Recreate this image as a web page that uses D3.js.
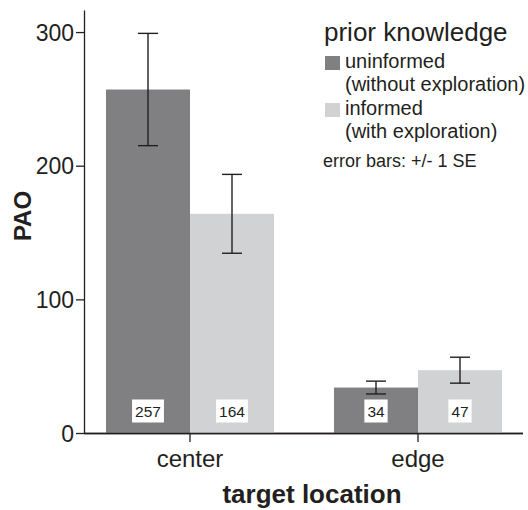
<!DOCTYPE html>
<html>
<head>
<meta charset="utf-8">
<script src="https://cdn.jsdelivr.net/npm/d3@7"></script>
<style>
    body { margin: 0; background: #fff; }
    text { font-family: "Liberation Sans", Arial, Helvetica, sans-serif; fill: #231f20; }
    .axis path, .axis line { stroke: #231f20; stroke-width: 1.3; }
</style>
</head>
<body>
<script>
var categories = ["center", "edge"];
var seriesNames = ["uninformed", "informed"];
var uninformedPAO = [257, 34];
var informedPAO = [164, 47];
var uninformedSE = [42, 4.8];
var informedSE = [29.5, 9.7];
var yTicks = [0, 100, 200, 300];

function InitChart() {
    var svgWidth = 528;
    var svgHeight = 510;
    var colors = {uninformed: "#808083", informed: "#d1d2d4"};

    // one row per bar, built from the arrays above
    var barData = [];
    categories.forEach(function (c, i) {
        barData.push({cat: c, series: "uninformed", y: uninformedPAO[i], se: uninformedSE[i]});
        barData.push({cat: c, series: "informed", y: informedPAO[i], se: informedSE[i]});
    });

    var svg = d3.select("body")
            .append("svg")
            .attr("width", svgWidth)
            .attr("height", svgHeight);

    var xScale = d3.scaleBand()
            .domain(categories)
            .range([76, 532]);

    var xSub = d3.scaleBand()
            .domain(seriesNames)
            .range([30, 198]);

    var yScale = d3.scaleLinear()
            .domain([0, 316.5])
            .range([433, 10]);

    // y axis
    var yAxis = d3.axisLeft(yScale)
            .tickValues(yTicks)
            .tickSize(8)
            .tickSizeOuter(0)
            .tickPadding(2);

    var gy = svg.append("g")
            .attr("class", "y axis")
            .attr("transform", "translate(84,0)")
            .call(yAxis);
    gy.selectAll("text")
            .style("font-size", "23px")
            .attr("dy", "0.36em")
            .attr("fill", "#231f20");

    // x axis
    var xAxis = d3.axisBottom(xScale)
            .tickSize(9)
            .tickSizeOuter(0)
            .tickPadding(8);

    var gx = svg.append("g")
            .attr("class", "x axis")
            .attr("transform", "translate(0,433)")
            .call(xAxis);
    gx.select(".domain").attr("d", "M84,0.5H523");
    gx.selectAll("text")
            .style("font-size", "24px")
            .attr("dy", "0.71em")
            .attr("fill", "#231f20");

    // bars
    svg.selectAll("rect.bar")
            .data(barData)
            .enter()
            .append("rect")
            .attr("class", "bar")
            .attr("x", function (d) { return xScale(d.cat) + xSub(d.series); })
            .attr("y", function (d) { return yScale(d.y); })
            .attr("width", xSub.bandwidth())
            .attr("height", function (d) { return yScale(0) - yScale(d.y); })
            .attr("fill", function (d) { return colors[d.series]; });

    // redraw baseline over bars
    svg.append("line")
            .attr("x1", 84).attr("x2", 523)
            .attr("y1", 433.5).attr("y2", 433.5)
            .attr("stroke", "#231f20")
            .attr("stroke-width", 1.3);

    // error bars
    var eb = svg.selectAll("g.err")
            .data(barData)
            .enter()
            .append("g")
            .attr("class", "err")
            .attr("transform", function (d) {
                return "translate(" + (xScale(d.cat) + xSub(d.series) + xSub.bandwidth() / 2) + ",0)";
            })
            .attr("stroke", "#231f20")
            .attr("stroke-width", 1.4);
    eb.append("line")
            .attr("x1", 0).attr("x2", 0)
            .attr("y1", function (d) { return yScale(d.y + d.se); })
            .attr("y2", function (d) { return yScale(d.y - d.se); });
    eb.append("line")
            .attr("x1", -10).attr("x2", 10)
            .attr("y1", function (d) { return yScale(d.y + d.se); })
            .attr("y2", function (d) { return yScale(d.y + d.se); });
    eb.append("line")
            .attr("x1", -10).attr("x2", 10)
            .attr("y1", function (d) { return yScale(d.y - d.se); })
            .attr("y2", function (d) { return yScale(d.y - d.se); });

    // value labels in white boxes
    var lab = svg.selectAll("g.val")
            .data(barData)
            .enter()
            .append("g")
            .attr("class", "val")
            .attr("transform", function (d) {
                return "translate(" + (xScale(d.cat) + xSub(d.series) + xSub.bandwidth() / 2) + "," + (yScale(0) - 22) + ")";
            });
    lab.append("rect")
            .attr("fill", "#fff");
    lab.append("text")
            .attr("text-anchor", "middle")
            .attr("dy", "0.36em")
            .style("font-size", "15.5px")
            .text(function (d) { return d.y; });
    lab.each(function () {
        var g = d3.select(this);
        var w = g.select("text").node().getComputedTextLength();
        g.select("rect")
                .attr("x", -w / 2 - 3)
                .attr("y", -11.5)
                .attr("width", w + 6)
                .attr("height", 23);
    });

    // axis titles
    svg.append("text")
            .attr("transform", "translate(31,216) rotate(-90)")
            .attr("text-anchor", "middle")
            .style("font-size", "24px")
            .style("font-weight", "bold")
            .text("PAO");

    svg.append("text")
            .attr("x", 312)
            .attr("y", 503)
            .attr("text-anchor", "middle")
            .style("font-size", "26px")
            .style("font-weight", "bold")
            .text("target location");

    // legend
    var legend = svg.append("g");
    legend.append("text")
            .attr("x", 324)
            .attr("y", 41)
            .style("font-size", "26px")
            .text("prior knowledge");

    var legendLines = [
        ["uninformed", "(without exploration)"],
        ["informed", "(with exploration)"]
    ];
    seriesNames.forEach(function (s, i) {
        var top = 56 + i * 47;
        legend.append("rect")
                .attr("x", 325)
                .attr("y", top)
                .attr("width", 15)
                .attr("height", 14)
                .attr("fill", colors[s]);
        legend.append("text")
                .attr("x", 345)
                .attr("y", top + 12)
                .style("font-size", "20px")
                .text(legendLines[i][0]);
        legend.append("text")
                .attr("x", 345)
                .attr("y", top + 35)
                .style("font-size", "20px")
                .text(legendLines[i][1]);
    });

    legend.append("text")
            .attr("x", 323)
            .attr("y", 167)
            .style("font-size", "18px")
            .text("error bars: +/- 1 SE");
}

InitChart();
</script>
</body>
</html>
